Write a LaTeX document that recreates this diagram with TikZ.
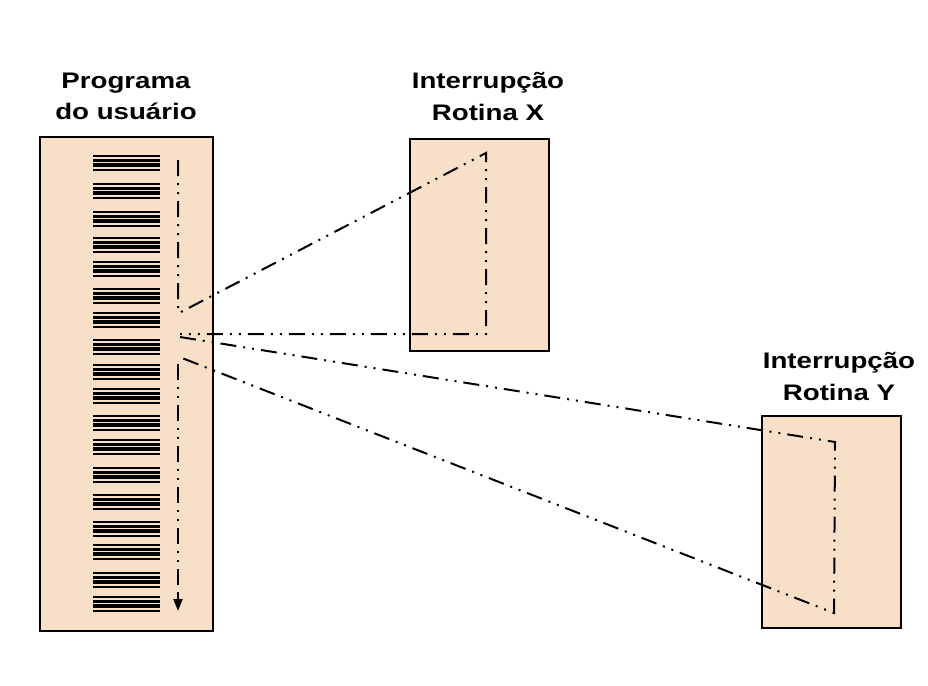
\documentclass[tikz,border=0pt]{standalone}
\usepackage{fontspec}
\setmainfont{Liberation Sans}
\usetikzlibrary{arrows.meta}
\definecolor{peach}{RGB}{247,224,199}
\newcommand{\widetext}[1]{\scalebox{1.23}[1]{#1}}
\begin{document}
\begin{tikzpicture}[x=1pt,y=-1pt,
  panel/.style={draw=black,line width=2pt,fill=peach},
  title/.style={font=\bfseries\fontsize{22.5}{30}\selectfont,inner sep=0pt,anchor=base},
  flow/.style={line width=2pt,dash pattern=on 16pt off 7pt on 2pt off 7pt on 2pt off 7pt},
  thinbar/.style={line width=2pt},
  thickbar/.style={line width=3.5pt}]
\useasboundingbox (0,0) rectangle (928,685);
% panels
\draw[panel] (40,137) rectangle (213,631);
\draw[panel] (410,139) rectangle (549,351);
\draw[panel] (762,416) rectangle (901,628);
% titles
\node[title] (tp) at (126,88) {\widetext{Programa}};
\node[title] (tp2) at (126,119) {\widetext{do usuário}};
\node[title] (tx) at (488,88) {\widetext{Interrupção}};
\node[title] (tx2) at (488,120) {\widetext{Rotina X}};
\node[title] (ty) at (839,368) {\widetext{Interrupção}};
\node[title] (ty2) at (839,400) {\widetext{Rotina Y}};
% code bars
\foreach \t in {155,183,211,237,261,288,312,339,364,388,415,439,467,494,521,544,572,596}{
  \draw[thinbar] (93,\t+1) -- (160,\t+1);
  \draw[thickbar] (93,\t+5.5) -- (160,\t+5.5);
  \draw[thickbar] (93,\t+10) -- (160,\t+10);
  \draw[thinbar] (93,\t+14.5) -- (160,\t+14.5);
}
% flow coordinates
\coordinate (p0) at (178,160);
\coordinate (p1) at (178,312);
\coordinate (p2) at (181,312);
\coordinate (x0) at (486,153);
\coordinate (x1) at (486,334);
\coordinate (p3) at (180,334);
\coordinate (p4) at (180,337);
\coordinate (y0) at (835,442);
\coordinate (y1) at (834,613);
\coordinate (p5) at (182,358);
\coordinate (p6) at (178,364);
\coordinate (p7) at (178,611);
% flow lines
\draw[flow] (p0) -- (p1) -- (p2) -- (x0) -- (x1) -- (p3);
\draw[flow] (p4) -- (y0) -- (y1) -- (p5);
\draw[flow] (p6) -- ([yshift=18pt]p7);
\draw[line width=2pt,-{Triangle[length=12pt,width=9pt]}] ([yshift=18pt]p7) -- (p7);
\end{tikzpicture}
\end{document}
